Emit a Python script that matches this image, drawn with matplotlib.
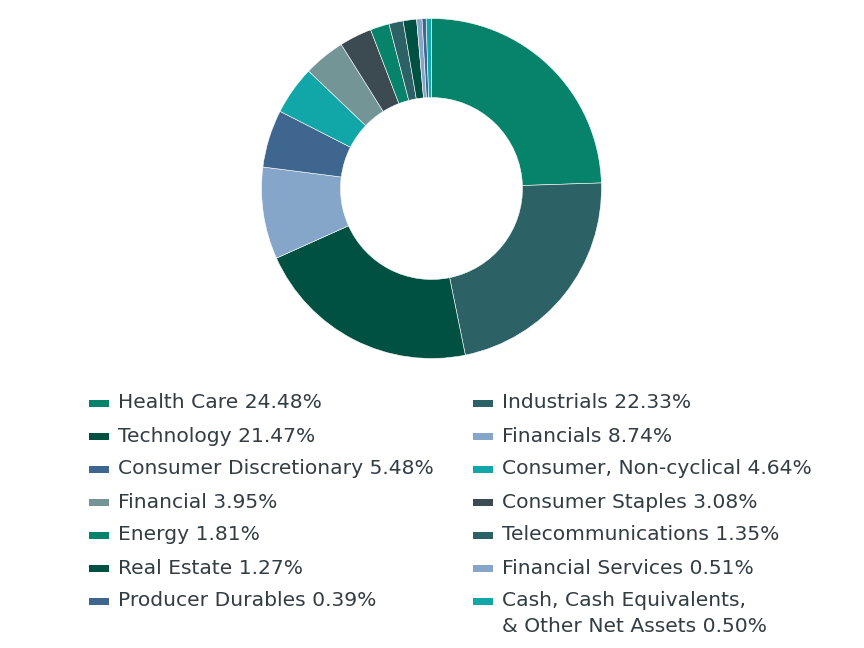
import matplotlib

matplotlib.use("Agg")
import matplotlib.pyplot as plt
from matplotlib.patches import Rectangle

sectors = [
    "Health Care",
    "Industrials",
    "Technology",
    "Financials",
    "Consumer Discretionary",
    "Consumer, Non-cyclical",
    "Financial",
    "Consumer Staples",
    "Energy",
    "Telecommunications",
    "Real Estate",
    "Financial Services",
    "Producer Durables",
    "Cash, Cash Equivalents,\n& Other Net Assets",
]
weights = [24.48, 22.33, 21.47, 8.74, 5.48, 4.64, 3.95, 3.08, 1.81, 1.35, 1.27, 0.51, 0.39, 0.50]

palette = ["#06836A", "#2C6165", "#005142", "#85A6C8", "#3E668E", "#11A6A8", "#739595", "#3C4A52"]
colors = [palette[i % len(palette)] for i in range(len(sectors))]

W, H = 864, 648
fig = plt.figure(figsize=(W / 100, H / 100), dpi=100)

# donut, centre ~(431.5, 188.5) px from top-left, radius ~170 px
cx, cy, r = 431.5, 188.5, 170
ax = fig.add_axes([(cx - r) / W, (H - cy - r) / H, 2 * r / W, 2 * r / H])
ax.pie(
    weights,
    colors=colors,
    startangle=90,
    counterclock=False,
    radius=1,
    wedgeprops=dict(width=0.465, edgecolor="white", linewidth=0.4),
)
ax.set_xlim(-1, 1)
ax.set_ylim(-1, 1)
ax.set_aspect("equal")
ax.axis("off")

# legend, two columns laid out row by row
text_color = "#333D44"
col_x = [89, 473]
row_y0, row_step, line_step = 403, 33, 25
for i, (name, value, color) in enumerate(zip(sectors, weights, colors)):
    row, col = divmod(i, 2)
    y = row_y0 + row * row_step
    x = col_x[col]
    fig.patches.append(
        Rectangle(
            (x / W, (H - y - 3.5) / H), 20 / W, 7 / H,
            transform=fig.transFigure, facecolor=color, edgecolor="none",
        )
    )
    lines = f"{name} {value:.2f}%".split("\n")
    for k, line in enumerate(lines):
        fig.text(
            (x + 29) / W, (H - y - k * line_step) / H, line,
            va="center", ha="left", fontsize=14.6, family="DejaVu Sans",
            color=text_color,
        )

fig.savefig("out.png", dpi=100)
